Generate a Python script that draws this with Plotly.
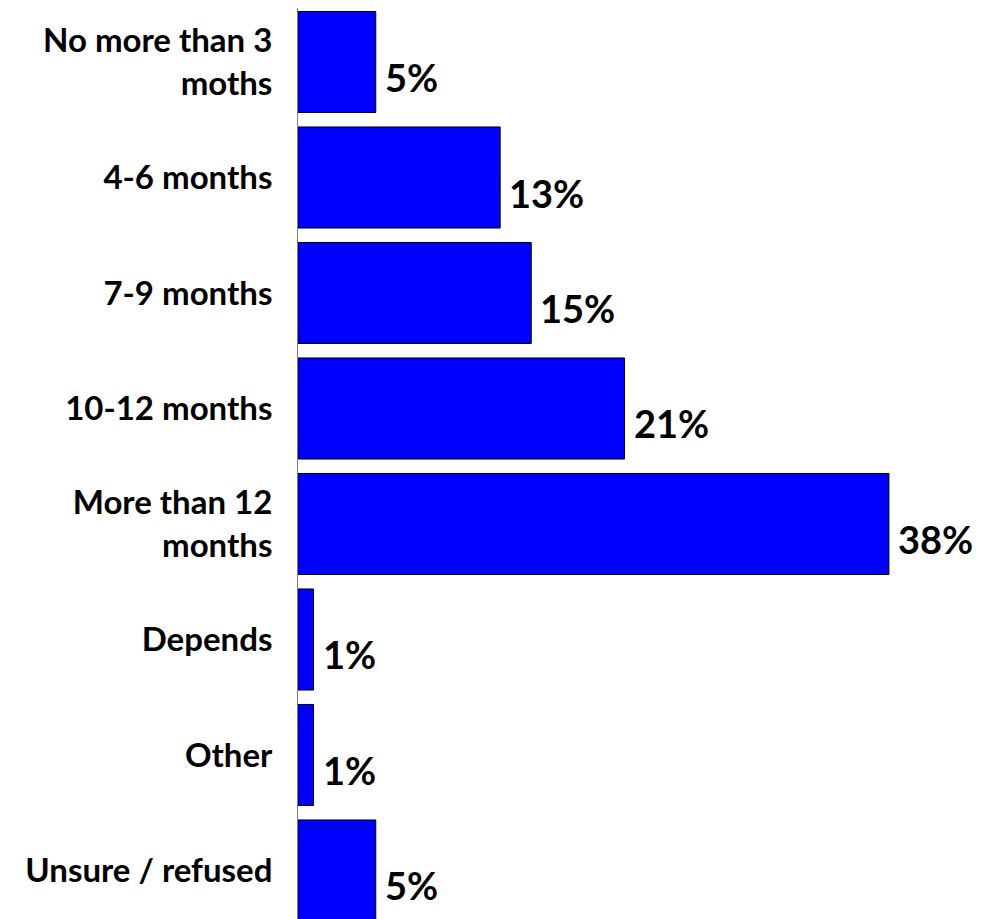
import plotly.graph_objects as go

categories = ["No more than 3<br>moths", "4-6 months", "7-9 months", "10-12 months",
              "More than 12<br>months", "Depends", "Other", "Unsure / refused"]
values = [5, 13, 15, 21, 38, 1, 1, 5]
value_labels = [f"{v}%" for v in values]

fig = go.Figure(go.Bar(
    x=values, y=categories, orientation="h",
    marker=dict(color="#0000FF", line=dict(color="#000000", width=1)),
    width=0.875,
))

for c, v, t in zip(categories, values, value_labels):
    fig.add_annotation(x=v, y=c, text=t, showarrow=False, xanchor="left", yanchor="middle",
                       xshift=7, yshift=-15,
                       font=dict(family="Lato", size=38, color="#000000", weight="bold"))

fig.update_layout(
    width=975, height=911,
    margin=dict(l=290, r=0, t=0, b=0),
    plot_bgcolor="white", paper_bgcolor="white",
    showlegend=False,
    font=dict(family="Lato", color="#000000"),
)
fig.update_xaxes(range=[0, 44.05], visible=False, showgrid=False)
fig.update_yaxes(
    range=[7.42, -0.4675], showline=True, linecolor="#808080", linewidth=1,
    showgrid=False, ticks="", ticklabelstandoff=18,
    tickfont=dict(family="Lato", size=33, color="#000000", weight="bold"),
)

fig.write_html("out.html")
